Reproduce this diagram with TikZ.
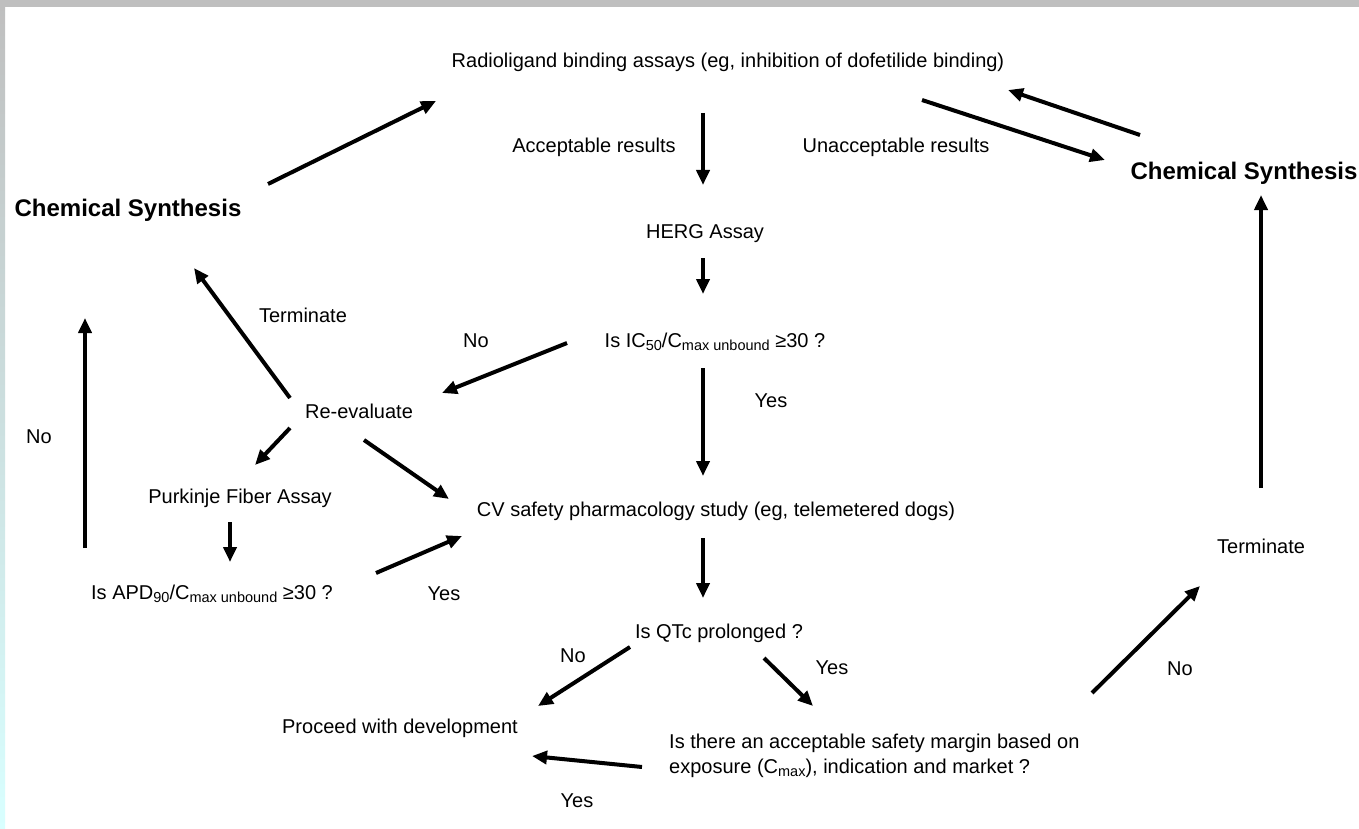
\documentclass[tikz,border=0pt]{standalone}
\usepackage{fontspec}
\setmainfont{Liberation Sans}
\usetikzlibrary{arrows.meta}
\newcommand\mysub[1]{\raisebox{-3.5pt}{\fontsize{14.5}{14.5}\selectfont #1}}
\tikzset{
  lbl/.style={font=\fontsize{20}{25}\selectfont, inner sep=0pt, anchor=base},
  big/.style={font=\fontsize{24}{28}\selectfont\bfseries, inner sep=0pt, anchor=base},
  arr/.style={line width=4pt, -{Triangle[length=15pt,width=13pt]}},
}
\begin{document}
\begin{tikzpicture}[x=1pt,y=-1pt]
\useasboundingbox (0,0) rectangle (1359,829);
\fill[white] (0,0) rectangle (1359,829);
\fill[gray!50] (0,0) rectangle (1359,7);
\shade[top color=gray!50, bottom color=cyan!15] (0,7) rectangle (5,829);

% nodes (anchored on the baseline)
\node[lbl] (radio) at (728,67.5) {Radioligand binding assays (eg, inhibition of dofetilide binding)};
\node[lbl] (acc) at (594,152.5) {Acceptable results};
\node[lbl] (unacc) at (896,152.5) {Unacceptable results};
\node[big] (csr) at (1244,179.5) {Chemical Synthesis};
\node[big] (csl) at (128,216) {Chemical Synthesis};
\node[lbl] (herg) at (705,238) {HERG Assay};
\node[lbl] (term1) at (303,322) {Terminate};
\node[lbl] (no1) at (476,347) {No};
\node[lbl] (ic) at (715,347) {Is IC\mysub{50}/C\mysub{max unbound} ≥30 ?};
\node[lbl] (yes1) at (771,407) {Yes};
\node[lbl] (no2) at (39,443) {No};
\node[lbl] (reev) at (359,418) {Re-evaluate};
\node[lbl] (purk) at (240,503) {Purkinje Fiber Assay};
\node[lbl] (cv) at (716,516) {CV safety pharmacology study (eg, telemetered dogs)};
\node[lbl] (term2) at (1261,553) {Terminate};
\node[lbl] (apd) at (212,599) {Is APD\mysub{90}/C\mysub{max unbound} ≥30 ?};
\node[lbl] (yes2) at (444,600) {Yes};
\node[lbl] (qtc) at (719,638) {Is QTc prolonged ?};
\node[lbl] (no3) at (573,662) {No};
\node[lbl] (yes3) at (832,674) {Yes};
\node[lbl] (no4) at (1180,675) {No};
\node[lbl] (proc) at (400,733) {Proceed with development};
\node[lbl, anchor=base west, align=left] (safe) at (669,773) {Is there an acceptable safety margin based on\\exposure (C\mysub{max}), indication and market ?};
\node[lbl] (yes4) at (577,807) {Yes};

% arrow end points
\coordinate (a1s) at (268,184); \coordinate (a1e) at (436,101);
\coordinate (a2s) at (1140,135); \coordinate (a2e) at (1008,90);
\coordinate (a3s) at (922,100); \coordinate (a3e) at (1105,160);
\coordinate (a4s) at (703,113); \coordinate (a4e) at (703,185);
\coordinate (a5s) at (703,258); \coordinate (a5e) at (703,294);
\coordinate (a6s) at (567,343); \coordinate (a6e) at (442,393);
\coordinate (a7s) at (703,368); \coordinate (a7e) at (703,476);
\coordinate (a8s) at (290,398); \coordinate (a8e) at (194,268);
\coordinate (a9s) at (290,428); \coordinate (a9e) at (255,465);
\coordinate (a10s) at (364,440); \coordinate (a10e) at (449,499);
\coordinate (a11s) at (230,522); \coordinate (a11e) at (230,562);
\coordinate (a12s) at (376,573); \coordinate (a12e) at (462,536);
\coordinate (a13s) at (85,548); \coordinate (a13e) at (85,318);
\coordinate (a14s) at (703,538); \coordinate (a14e) at (703,598);
\coordinate (a15s) at (630,647); \coordinate (a15e) at (538,706);
\coordinate (a16s) at (764,658); \coordinate (a16e) at (813,706);
\coordinate (a17s) at (642,767); \coordinate (a17e) at (532,756);
\coordinate (a18s) at (1092,693); \coordinate (a18e) at (1200,586);
\coordinate (a19s) at (1261,488); \coordinate (a19e) at (1261,195);

\foreach \i in {1,...,19} \draw[arr] (a\i s) -- (a\i e);
\end{tikzpicture}
\end{document}
